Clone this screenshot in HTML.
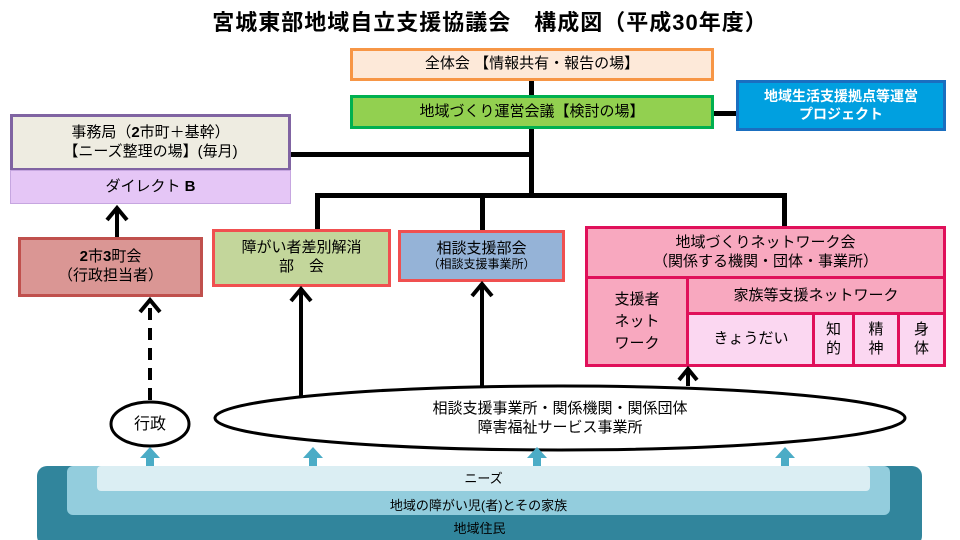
<!DOCTYPE html>
<html><head><meta charset="utf-8"><style>
body{margin:0;width:960px;height:540px;background:#fff;overflow:hidden;position:relative;font-family:"Liberation Sans","Noto Sans CJK JP",sans-serif;color:#000}
.b{position:absolute;box-sizing:border-box;display:flex;flex-direction:column;align-items:center;justify-content:center;text-align:center;line-height:1.25}
.l{position:absolute;background:#000}
</style></head><body>
<div class="b" style="left:120px;top:5px;width:740px;height:36px;font-size:22px;font-weight:bold;letter-spacing:1px">宮城東部地域自立支援協議会　構成図（平成30年度）</div>

<!-- lines -->
<div class="l" style="left:529px;top:80px;width:5px;height:16px"></div>
<div class="l" style="left:529px;top:128px;width:5px;height:69px"></div>
<div class="l" style="left:290px;top:152px;width:242px;height:5px"></div>
<div class="l" style="left:714px;top:111px;width:24px;height:5px"></div>
<div class="l" style="left:315px;top:193px;width:472px;height:5px"></div>
<div class="l" style="left:315px;top:193px;width:5px;height:38px"></div>
<div class="l" style="left:480px;top:193px;width:5px;height:38px"></div>
<div class="l" style="left:782px;top:193px;width:5px;height:35px"></div>

<div class="b" style="left:350px;top:48px;width:364px;height:33px;background:#fde9d9;border:3px solid #f79646;font-size:15px">全体会 【情報共有・報告の場】</div>
<div class="b" style="left:350px;top:95px;width:364px;height:34px;background:#92d050;border:3px solid #00b050;font-size:15px">地域づくり運営会議【検討の場】</div>
<div class="b" style="left:736px;top:80px;width:210px;height:51px;background:#00a0e0;border:3px solid #1a6fc0;font-size:14px;font-weight:bold;color:#fff">地域生活支援拠点等運営<br>プロジェクト</div>

<div class="b" style="left:10px;top:114px;width:281px;height:57px;background:#eeece1;border:3px solid #8064a2;font-size:15px"><span>事務局（<b>2</b>市町＋基幹）</span><span>【ニーズ整理の場】(毎月)</span></div>
<div class="b" style="left:10px;top:170px;width:281px;height:34px;background:#e5c6f6;border:1px solid #c6a6e0;font-size:15px"><span>ダイレクト <b>B</b></span></div>

<div class="b" style="left:18px;top:237px;width:185px;height:60px;background:#da9694;border:3px solid #c0504d;font-size:15px"><span><b>2</b>市<b>3</b>町会</span><span>（行政担当者）</span></div>
<div class="b" style="left:212px;top:229px;width:179px;height:58px;background:#c3d69b;border:3px solid #f05050;font-size:15px">障がい者差別解消<br>部　会</div>
<div class="b" style="left:398px;top:230px;width:167px;height:52px;background:#95b3d7;border:3px solid #f05050;font-size:15px;line-height:1.1"><span>相談支援部会</span><span style="font-size:12px">（相談支援事業所）</span></div>

<div style="position:absolute;left:585px;top:226px;width:361px;height:141px;box-sizing:border-box;border:3px solid #e0105a;background:#f8a8bf"></div>
<div class="b" style="left:588px;top:229px;width:355px;height:48px;font-size:15px">地域づくりネットワーク会<br>（関係する機関・団体・事業所）</div>
<div class="l" style="left:585px;top:276px;width:361px;height:3px;background:#e0105a"></div>
<div class="l" style="left:686px;top:276px;width:3px;height:90px;background:#e0105a"></div>
<div class="b" style="left:588px;top:279px;width:98px;height:86px;font-size:15px;line-height:1.45">支援者<br>ネット<br>ワーク</div>
<div class="b" style="left:689px;top:279px;width:254px;height:34px;font-size:15px">家族等支援ネットワーク</div>
<div class="l" style="left:686px;top:312px;width:260px;height:3px;background:#e0105a"></div>
<div class="b" style="left:689px;top:315px;width:124px;height:49px;background:#fbd7f1;font-size:15px">きょうだい</div>
<div class="b" style="left:815px;top:315px;width:37px;height:49px;background:#fbd7f1;font-size:15px">知<br>的</div>
<div class="b" style="left:855px;top:315px;width:42px;height:49px;background:#fbd7f1;font-size:15px">精<br>神</div>
<div class="b" style="left:900px;top:315px;width:43px;height:49px;background:#fbd7f1;font-size:15px">身<br>体</div>
<div class="l" style="left:812px;top:313px;width:3px;height:53px;background:#e0105a"></div>
<div class="l" style="left:852px;top:313px;width:3px;height:53px;background:#e0105a"></div>
<div class="l" style="left:897px;top:313px;width:3px;height:53px;background:#e0105a"></div>

<svg width="960" height="540" style="position:absolute;left:0;top:0">
<g stroke="#000" stroke-width="4" fill="none">
<line x1="117" y1="237" x2="117" y2="210"/><polyline points="107,220 117,208 127,220"/>
<line x1="150" y1="400" x2="150" y2="302" stroke-dasharray="12,8"/><polyline points="140,312 150,300 160,312"/>
<line x1="301" y1="405" x2="301" y2="291"/><polyline points="291,301 301,289 311,301"/>
<line x1="482" y1="400" x2="482" y2="286"/><polyline points="472,296 482,284 492,296"/>
<line x1="688" y1="386" x2="688" y2="372"/><polyline points="679,380 688,369 697,380"/>
</g>
<ellipse cx="150" cy="424" rx="39" ry="22" fill="#fff" stroke="#000" stroke-width="3"/>
<ellipse cx="560" cy="418" rx="345" ry="32" fill="#fff" stroke="#000" stroke-width="3"/>
<g fill="#4bacc6">
<polygon points="140,458 150,447 160,458 154,458 154,467 146,467 146,458"/>
<polygon points="303,458 313,447 323,458 317,458 317,467 309,467 309,458"/>
<polygon points="527,458 537,447 547,458 541,458 541,467 533,467 533,458"/>
<polygon points="775,458 785,447 795,458 789,458 789,467 781,467 781,458"/>
</g>
<rect x="37" y="466" width="885" height="80" rx="10" fill="#31859c"/>
<rect x="67" y="466" width="823" height="49" rx="6" fill="#93cddd"/>
<rect x="97" y="466" width="773" height="25" rx="4" fill="#dbeef3"/>
</svg>
<div class="b" style="left:110px;top:413px;width:80px;height:24px;font-size:16px">行政</div>
<div class="b" style="left:300px;top:397px;width:520px;height:44px;font-size:15px">相談支援事業所・関係機関・関係団体<br>障害福祉サービス事業所</div>
<div class="b" style="left:97px;top:470px;width:773px;height:18px;font-size:13px">ニーズ</div>
<div class="b" style="left:67px;top:497px;width:823px;height:18px;font-size:13px">地域の障がい児(者)とその家族</div>
<div class="b" style="left:37px;top:520px;width:885px;height:18px;font-size:13px">地域住民</div>
</body></html>
